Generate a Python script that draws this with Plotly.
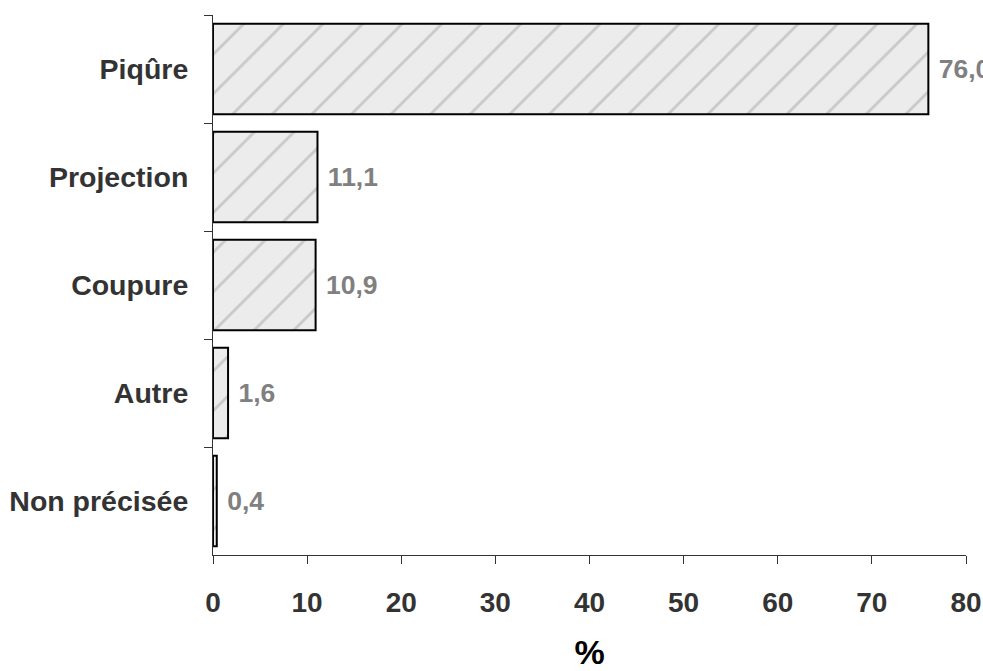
import plotly.graph_objects as go

# Accident types (top to bottom) and their share in percent
categories = ["Piqûre", "Projection", "Coupure", "Autre", "Non précisée"]
values = [76.0, 11.1, 10.9, 1.6, 0.4]

x_ticks = [0, 10, 20, 30, 40, 50, 60, 70, 80]

FONT = "Liberation Sans, Arial, sans-serif"

fig = go.Figure(
    go.Bar(
        y=categories,
        x=values,
        orientation="h",
        marker=dict(
            color="#e8e8e8",
            line=dict(color="#000000", width=2),
            pattern=dict(
                shape="/",
                bgcolor="#ececec",
                fgcolor="#c9c9c9",
                size=28,
                solidity=0.1,
                fillmode="replace",
            ),
        ),
        text=values,
        texttemplate=" %{x:.1f}",
        textposition="outside",
        constraintext="none",
        cliponaxis=False,
        textfont=dict(family=FONT, size=26.5, color="#808080", weight="bold"),
        hoverinfo="skip",
    )
)

fig.update_layout(
    width=983,
    height=671,
    margin=dict(l=213, r=17, t=15, b=116, autoexpand=False),
    paper_bgcolor="white",
    plot_bgcolor="white",
    bargap=0.16,
    separators=",.",
    showlegend=False,
    font=dict(family=FONT, color="#333333"),
)

fig.update_xaxes(
    range=[0, 80],
    tickvals=x_ticks,
    ticks="outside",
    ticklen=8,
    tickcolor="#333333",
    showline=True,
    linecolor="#333333",
    linewidth=1,
    showgrid=False,
    zeroline=False,
    automargin=False,
    tickfont=dict(family=FONT, size=28, color="#333333", weight="bold"),
    ticklabelstandoff=14,
    title=dict(text="%", font=dict(family=FONT, size=34, color="#000000", weight="bold"), standoff=30),
)

fig.update_yaxes(
    autorange="reversed",
    tickson="boundaries",
    ticks="outside",
    ticklen=8,
    tickcolor="#333333",
    showline=True,
    linecolor="#333333",
    linewidth=1,
    showgrid=False,
    automargin=False,
    tickfont=dict(family=FONT, size=28.5, color="#333333", weight="bold"),
    ticklabelstandoff=18,
)

fig.write_html("out.html")
